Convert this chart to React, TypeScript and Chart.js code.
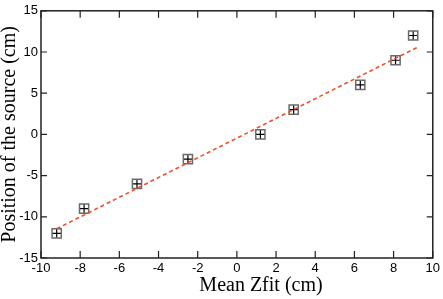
import React, { useEffect, useRef } from "react";
import { Chart, registerables } from "chart.js";

Chart.register(...registerables);

const xValues = [-9.2, -7.8, -5.1, -2.5, 1.2, 2.9, 6.3, 8.1, 9.0];
const yValues = [-12, -9, -6, -3, 0, 3, 6, 9, 12];
const fitX = [-9.2, 9.2];
const fitY = [-11.45, 10.55];
const xTicks = [-10, -8, -6, -4, -2, 0, 2, 4, 6, 8, 10];
const yTicks = [-15, -10, -5, 0, 5, 10, 15];
const xTitle = "Mean Zfit (cm)";
const yTitle = "Position of the source (cm)";

const tickFont = '"Liberation Sans Narrow", "Liberation Sans"';

const framePlugin = {
  id: "frame",
  afterDatasetsDraw(chart: any) {
    const { ctx, chartArea } = chart;
    const xs = chart.scales.x;
    const ys = chart.scales.y;
    ctx.save();
    ctx.strokeStyle = "#222";
    ctx.lineWidth = 1.5;
    ctx.strokeRect(chartArea.left, chartArea.top, chartArea.right - chartArea.left, chartArea.bottom - chartArea.top);
    ctx.lineWidth = 1.2;
    ctx.beginPath();
    for (const t of xTicks) {
      const px = xs.getPixelForValue(t);
      ctx.moveTo(px, chartArea.bottom);
      ctx.lineTo(px, chartArea.bottom - 7);
      ctx.moveTo(px, chartArea.top);
      ctx.lineTo(px, chartArea.top + 7);
    }
    for (const t of yTicks) {
      const py = ys.getPixelForValue(t);
      ctx.moveTo(chartArea.left, py);
      ctx.lineTo(chartArea.left + 6, py);
      ctx.moveTo(chartArea.right, py);
      ctx.lineTo(chartArea.right - 6, py);
    }
    ctx.stroke();

    // axis titles
    ctx.fillStyle = "#000";
    ctx.font = '20px "Liberation Serif"';
    ctx.textAlign = "center";
    ctx.textBaseline = "middle";
    ctx.fillText(xTitle, 261, 286);
    ctx.translate(10, (chartArea.top + chartArea.bottom) / 2);
    ctx.rotate(-Math.PI / 2);
    ctx.fillText(yTitle, 0, 0);
    ctx.restore();
  },
};

export default function App() {
  const ref = useRef<HTMLCanvasElement>(null);
  useEffect(() => {
    document.body.style.margin = "0";
    const pts = xValues.map((x, i) => ({ x, y: yValues[i] }));
    const fit = fitX.map((x, i) => ({ x, y: fitY[i] }));
    const chart = new Chart(ref.current!, {
      type: "scatter",
      data: {
        datasets: [
          {
            type: "line",
            data: fit,
            borderColor: "rgb(240,80,40)",
            borderWidth: 1.6,
            borderDash: [4, 3],
            pointRadius: 0,
            fill: false,
          } as any,
          {
            data: pts,
            pointStyle: "rect",
            pointRadius: 6.5,
            borderColor: "#6a6a6a",
            borderWidth: 1.5,
            backgroundColor: "rgba(255,255,255,0)",
          },
          {
            data: pts,
            pointStyle: "cross",
            pointRadius: 4.5,
            borderColor: "#000",
            borderWidth: 1.2,
          },
        ],
      },
      options: {
        animation: false,
        responsive: false,
        maintainAspectRatio: false,
        layout: { padding: { top: 7, right: 6, left: 0, bottom: 0 } },
        plugins: { legend: { display: false }, tooltip: { enabled: false } },
        scales: {
          x: {
            type: "linear",
            min: -10,
            max: 10,
            afterBuildTicks: (s: any) => {
              s.ticks = xTicks.map((v) => ({ value: v }));
            },
            afterFit: (s: any) => {
              s.height = 41;
            },
            grid: { display: false, drawTicks: false },
            border: { display: false },
            ticks: {
              color: "#000",
              padding: 3,
              font: { family: tickFont, size: 13 },
              maxRotation: 0,
            },
          },
          y: {
            type: "linear",
            min: -15,
            max: 15,
            afterBuildTicks: (s: any) => {
              s.ticks = yTicks.map((v) => ({ value: v }));
            },
            afterFit: (s: any) => {
              s.width = 41;
            },
            grid: { display: false, drawTicks: false },
            border: { display: false },
            ticks: {
              color: "#000",
              padding: 3,
              font: { family: tickFont, size: 13 },
            },
          },
        },
      },
      plugins: [framePlugin],
    });
    return () => chart.destroy();
  }, []);
  return (
    <div style={{ width: 443, height: 299 }}>
      <canvas ref={ref} width={443} height={299} />
    </div>
  );
}
